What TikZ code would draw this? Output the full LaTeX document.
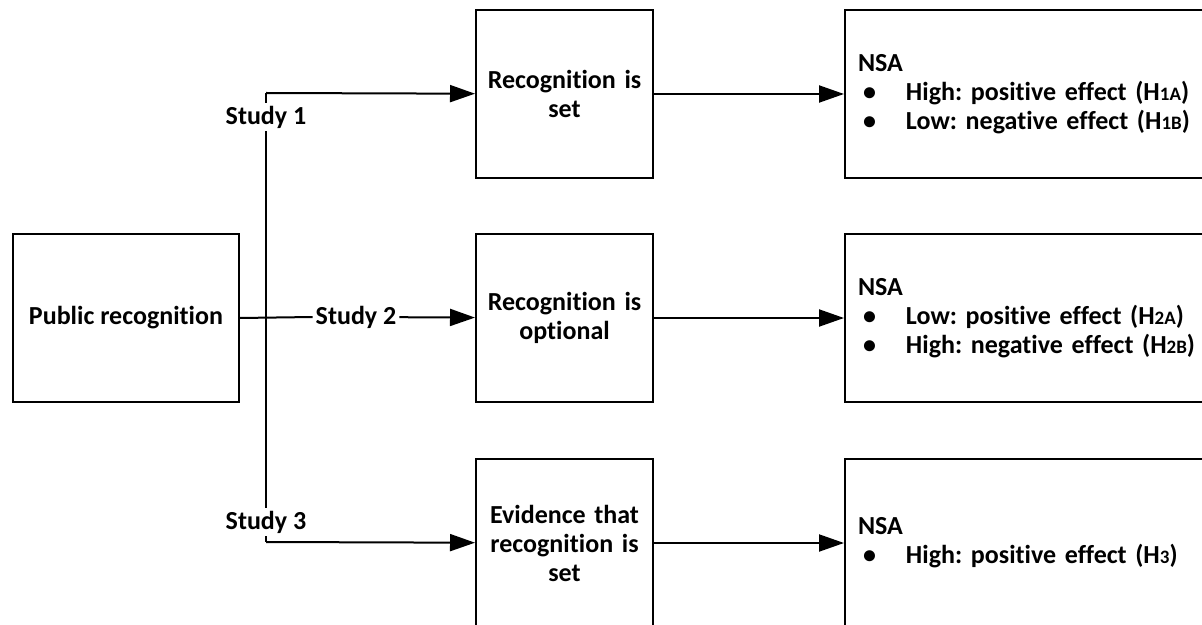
\documentclass[tikz,border=0pt]{standalone}
\usepackage{fontspec}
\setmainfont{Carlito}[Ligatures=NoCommon]
\usepackage{tikz}
\usetikzlibrary{arrows.meta}
\frenchspacing

\newcommand{\hyp}[1]{H{\fontsize{9.5pt}{10pt}\selectfont #1}}

\begin{document}
\begin{tikzpicture}[x=0.5pt,y=-0.5pt,line width=1pt,
every node/.style={font=\fontsize{13pt}{14.5pt}\selectfont\bfseries},
box/.style={draw,anchor=north west,inner sep=0pt},
midbox/.style={box,minimum width=88.5pt,minimum height=84pt,text width=80pt,align=center},
resbox/.style={box,minimum width=200pt,minimum height=84pt,inner xsep=6.5pt,text width=187pt,align=left},
lab/.style={fill=white,inner sep=1pt},
arr/.style={-{Triangle[length=12.5pt,width=8.5pt]}}]

\useasboundingbox (0,0) rectangle (1202,625);
\clip (0,0) rectangle (1202,625);

\node[box,minimum width=113pt,minimum height=84pt] (pub) at (12,233) {Public recognition};

\node[midbox] (mid1) at (475,9) {Recognition is\\set};
\node[midbox] (mid2) at (475,233) {Recognition is\\optional};
\node[midbox] (mid3) at (475,458) {Evidence that\\recognition is\\set};

\node[resbox] (res1) at (844,9) {NSA\\
\hspace*{2.5pt}\makebox[21.5pt][l]{\textbullet}High: positive effect (\hyp{1A})\\
\hspace*{2.5pt}\makebox[21.5pt][l]{\textbullet}Low: negative effect (\hyp{1B})};
\node[resbox] (res2) at (844,233) {NSA\\
\hspace*{2.5pt}\makebox[21.5pt][l]{\textbullet}Low: positive effect (\hyp{2A})\\
\hspace*{2.5pt}\makebox[21.5pt][l]{\textbullet}High: negative effect (\hyp{2B})};
\node[resbox] (res3) at (844,458) {NSA\\
\hspace*{2.5pt}\makebox[21.5pt][l]{\textbullet}High: positive effect (\hyp{3})};

\coordinate (top) at (266,93);
\coordinate (bot) at (266,542);
\node[lab] (s1) at (266,117) {Study 1};
\node[lab] (s2) at (356,317) {Study 2};
\node[lab] (s3) at (266,522) {Study 3};

\draw (top) -- (s1) (s1) -- (s3) (s3) -- (bot);
\draw (pub.east) -- (s2.west);
\draw[arr] (s2) -- (mid2);
\draw[arr] (top) -- (mid1);
\draw[arr] (bot) -- (mid3);

\foreach \i in {1,2,3}
\draw[arr] (mid\i) -- (res\i);

\end{tikzpicture}
\end{document}
